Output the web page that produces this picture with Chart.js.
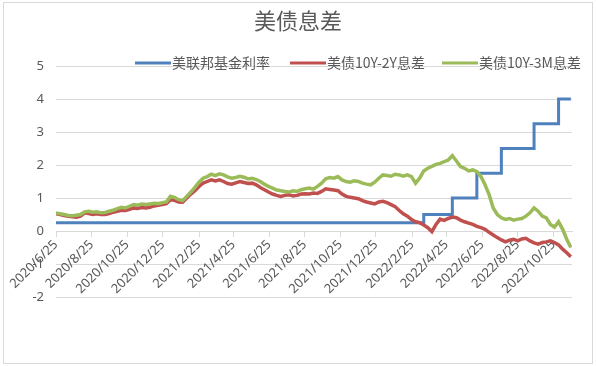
<!DOCTYPE html>
<html>
<head>
<meta charset="utf-8">
<script src="https://cdn.jsdelivr.net/npm/chart.js@4.4.0/dist/chart.umd.min.js"></script>
<style>
  html, body { margin: 0; padding: 0; background: #fff; }
</style>
</head>
<body>
<canvas id="spreadChart" width="596" height="366"></canvas>
<script>
const chartTitle = "美债息差";
const seriesNames = ["美联邦基金利率", "美债10Y-2Y息差", "美债10Y-3M息差"];
const tickLabels = [
  "2020/6/25", "2020/8/25", "2020/10/25", "2020/12/25", "2021/2/25",
  "2021/4/25", "2021/6/25", "2021/8/25", "2021/10/25", "2021/12/25",
  "2022/2/25", "2022/4/25", "2022/6/25", "2022/8/25", "2022/10/25"
];

// weekly readings, first one on startDate
const startDate = "2020/6/25";
const spread10y2y = [
  0.52, 0.50, 0.47, 0.45, 0.43, 0.42, 0.45, 0.55, 0.53, 0.50,
  0.52, 0.50, 0.50, 0.53, 0.57, 0.60, 0.63, 0.62, 0.66, 0.70,
  0.68, 0.71, 0.70, 0.72, 0.76, 0.78, 0.80, 0.83, 0.95, 0.93,
  0.88, 0.87, 1.00, 1.12, 1.22, 1.35, 1.45, 1.50, 1.55, 1.52,
  1.55, 1.50, 1.44, 1.42, 1.46, 1.50, 1.47, 1.44, 1.45, 1.40,
  1.32, 1.25, 1.18, 1.12, 1.08, 1.05, 1.08, 1.10, 1.06, 1.08,
  1.12, 1.13, 1.12, 1.15, 1.14, 1.20, 1.28, 1.26, 1.24, 1.22,
  1.12, 1.05, 1.02, 1.00, 0.98, 0.92, 0.88, 0.85, 0.82, 0.88,
  0.90, 0.86, 0.80, 0.74, 0.62, 0.52, 0.45, 0.35, 0.28, 0.25,
  0.18, 0.10, -0.02, 0.20, 0.36, 0.32, 0.38, 0.42, 0.40, 0.33,
  0.28, 0.24, 0.20, 0.14, 0.10, 0.05, -0.04, -0.12, -0.20, -0.27,
  -0.33, -0.28, -0.25, -0.30, -0.24, -0.22, -0.30, -0.36, -0.40, -0.35,
  -0.33, -0.30, -0.35, -0.42, -0.55, -0.66, -0.78
];
const spread10y3m = [
  0.55, 0.52, 0.50, 0.47, 0.46, 0.48, 0.50, 0.58, 0.60, 0.57,
  0.58, 0.55, 0.56, 0.60, 0.63, 0.68, 0.72, 0.70, 0.75, 0.80,
  0.78, 0.82, 0.80, 0.82, 0.84, 0.83, 0.86, 0.88, 1.05, 1.02,
  0.95, 0.92, 1.05, 1.18, 1.32, 1.48, 1.60, 1.65, 1.72, 1.68,
  1.73, 1.70, 1.64, 1.60, 1.62, 1.66, 1.63, 1.58, 1.60, 1.56,
  1.50, 1.42, 1.35, 1.30, 1.24, 1.22, 1.20, 1.18, 1.22, 1.20,
  1.25, 1.28, 1.30, 1.27, 1.35, 1.45, 1.58, 1.62, 1.60, 1.65,
  1.55, 1.50, 1.48, 1.52, 1.50, 1.45, 1.42, 1.40, 1.48, 1.60,
  1.70, 1.68, 1.66, 1.72, 1.70, 1.66, 1.70, 1.65, 1.45, 1.60,
  1.82, 1.90, 1.96, 2.02, 2.05, 2.10, 2.15, 2.28, 2.12, 1.95,
  1.90, 1.82, 1.85, 1.80, 1.65, 1.40, 1.10, 0.70, 0.50, 0.40,
  0.35, 0.38, 0.33, 0.36, 0.38, 0.45, 0.55, 0.70, 0.60, 0.45,
  0.40, 0.20, 0.12, 0.28, 0.05, -0.25, -0.50
];

// fed funds upper bound, value holds from each date on
const fedDates = ["2020/6/25", "2022/3/17", "2022/5/5", "2022/6/16", "2022/7/28", "2022/9/22", "2022/11/3", "2022/11/24"];
const fedRates = [0.25, 0.5, 1.0, 1.75, 2.5, 3.25, 4.0, 4.0];

const colors = ["#4f81bd", "#c0504d", "#9bbb59"];
const textGray = "#595959";
const gridGray = "#d9d9d9";

function dayOf(s) {
  const [y, m, d] = s.split("/").map(Number);
  const [y0, m0, d0] = startDate.split("/").map(Number);
  return (Date.UTC(y, m - 1, d) - Date.UTC(y0, m0 - 1, d0)) / 86400000;
}
const weekly = (arr) => arr.map((v, i) => ({ x: i * 7, y: v }));

const decor = {
  id: "decor",
  afterDraw(chart) {
    const ctx = chart.ctx;
    ctx.save();
    ctx.strokeStyle = gridGray;
    ctx.lineWidth = 1;
    ctx.strokeRect(3.5, 2.5, 589, 361);

    ctx.fillStyle = textGray;
    ctx.textBaseline = "middle";
    ctx.textAlign = "center";
    ctx.font = '22px "Noto Sans CJK SC"';
    ctx.fillText(chartTitle, 298, 21);

    // legend sits on the top gridline like in the excel original
    ctx.textAlign = "left";
    ctx.font = '14px "Noto Sans CJK SC"';
    const starts = [135, 290, 442];
    chart.data.datasets.forEach((ds, i) => {
      const x = starts[i];
      ctx.strokeStyle = ds.borderColor;
      ctx.lineWidth = 3;
      ctx.beginPath();
      ctx.moveTo(x, 63);
      ctx.lineTo(x + 36, 63);
      ctx.stroke();
      ctx.fillText(ds.label, x + 37, 63);
    });
    ctx.restore();
  }
};

new Chart(document.getElementById("spreadChart"), {
  type: "line",
  data: {
    datasets: [
      {
        label: seriesNames[0],
        data: fedDates.map((d, i) => ({ x: dayOf(d), y: fedRates[i] })),
        borderColor: colors[0],
        borderWidth: 3,
        stepped: "before",
        order: 2,
      },
      {
        label: seriesNames[1],
        data: weekly(spread10y2y),
        borderColor: colors[1],
        borderWidth: 3.5,
        order: 1,
      },
      {
        label: seriesNames[2],
        data: weekly(spread10y3m),
        borderColor: colors[2],
        borderWidth: 3.5,
        order: 0,
      },
    ],
  },
  options: {
    responsive: false,
    animation: false,
    devicePixelRatio: 1,
    layout: { padding: { left: 0, right: 24, top: 66, bottom: 69 } },
    elements: { point: { radius: 0 }, line: { tension: 0 } },
    plugins: {
      legend: { display: false },
      title: { display: false },
      tooltip: { enabled: false },
    },
    scales: {
      x: {
        type: "linear",
        position: { y: 0 },
        min: 0,
        max: 884,
        afterBuildTicks: (scale) => {
          scale.ticks = tickLabels.map((t) => ({ value: dayOf(t) }));
        },
        afterFit: (scale) => {
          scale.paddingLeft = 0;
          scale.paddingRight = 0;
        },
        grid: { drawOnChartArea: false, drawTicks: true, tickLength: 5, color: gridGray },
        border: { color: gridGray },
        ticks: {
          autoSkip: false,
          minRotation: 45,
          maxRotation: 45,
          padding: 1,
          color: textGray,
          font: { family: "Noto Sans", size: 13 },
          callback: (v, i) => tickLabels[i],
        },
      },
      y: {
        min: -2,
        max: 5,
        afterFit: (scale) => {
          scale.width = 56;
        },
        grid: { color: gridGray, drawTicks: false },
        border: { display: false },
        ticks: {
          stepSize: 1,
          padding: 12,
          color: textGray,
          font: { family: "Noto Sans", size: 13 },
        },
      },
    },
  },
  plugins: [decor],
});
</script>
</body>
</html>
